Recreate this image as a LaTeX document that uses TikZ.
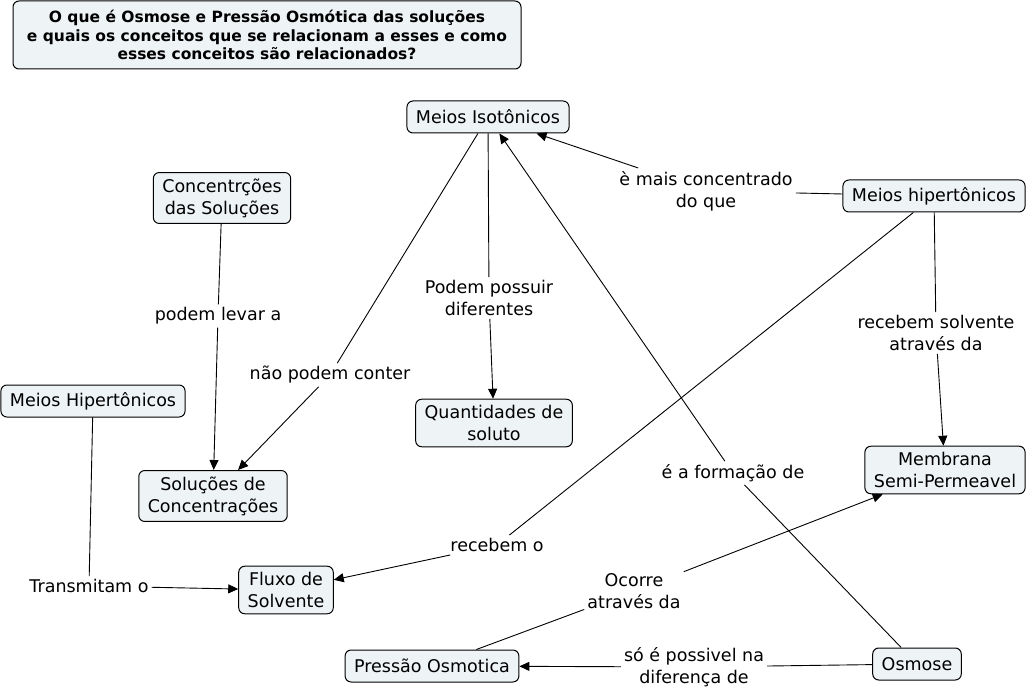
\documentclass[tikz,border=0pt]{standalone}
\usepackage{fontspec}
\setmainfont{DejaVu Sans}
\usetikzlibrary{arrows.meta,positioning}
\definecolor{conceptfill}{RGB}{238,243,245}

\begin{document}
\begin{tikzpicture}[x=1pt, y=-1pt,
    concept/.style={draw, line width=1pt, fill=conceptfill, rounded corners=6pt, align=center,
        inner xsep=9pt, inner ysep=6pt, minimum height=32pt,
        font=\fontsize{17.5}{22}\selectfont},
    linkword/.style={align=center, inner sep=3pt, font=\fontsize{17.5}{22}\selectfont},
    link/.style={line width=0.9pt},
    linkto/.style={line width=0.9pt, -{Triangle[length=10pt,width=9pt]}}]
    \useasboundingbox (0,0) rectangle (1030,692);
    \node[concept, font=\bfseries\fontsize{15.5}{18.5}\selectfont, inner xsep=3pt, minimum width=508pt, minimum height=68pt] (title) at (267,35)
        {O que é Osmose e Pressão Osmótica das soluções\\e quais os conceitos que se relacionam a esses e como\\esses conceitos são relacionados?};
    \node[concept] (isot) at (488,117) {Meios Isotônicos};
    \node[concept] (conc) at (222,198) {Concentrções\\das Soluções};
    \node[concept] (hiperR) at (934,196) {Meios hipertônicos};
    \node[concept] (hiperL) at (93,401) {Meios Hipertônicos};
    \node[concept] (quant) at (494,423) {Quantidades de\\soluto};
    \node[concept] (solu) at (213,496) {Soluções de\\Concentrações};
    \node[concept] (memb) at (945,470) {Membrana\\Semi-Permeavel};
    \node[concept] (fluxo) at (286,590) {Fluxo de\\Solvente};
    \node[concept] (press) at (432,666) {Pressão Osmotica};
    \node[concept] (osm) at (917,664) {Osmose};

    \node[linkword] (maisconc) at (706,191) {è mais concentrado\\do que};
    \node[linkword] (levar) at (218,316) {podem levar a};
    \node[linkword] (possuir) at (489,298) {Podem possuir\\diferentes};
    \node[linkword] (conter) at (330,375) {não podem conter};
    \node[linkword] (recsolv) at (936,333) {recebem solvente\\através da};
    \node[linkword] (formacao) at (733,473) {é a formação de};
    \node[linkword] (recebem) at (497,545) {recebem o};
    \node[linkword] (transm) at (89,586) {Transmitam o};
    \node[linkword] (ocorre) at (634,591) {Ocorre\\através da};
    \node[linkword] (possivel) at (694,667) {só é possivel na\\diferença de};

    \draw[link] (hiperR) -- (maisconc);
    \draw[linkto] (maisconc) -- (isot);
    \draw[link] (isot) -- (conter);
    \draw[linkto] (conter) -- (solu);
    \draw[link] (isot) -- (possuir);
    \draw[linkto] (possuir) -- (quant);
    \draw[link] (osm) -- (formacao);
    \draw[linkto] (formacao) -- (isot);
    \draw[link] (conc) -- (levar);
    \draw[linkto] (levar) -- (solu);
    \draw[link] (hiperR) -- (recebem);
    \draw[linkto] (recebem) -- (fluxo);
    \draw[link] (hiperR) -- (recsolv);
    \draw[linkto] (recsolv) -- (memb);
    \draw[link] (hiperL) -- (transm);
    \draw[linkto] (transm) -- (fluxo);
    \draw[link] (press) -- (ocorre);
    \draw[linkto] (ocorre) -- (memb);
    \draw[link] (osm) -- (possivel);
    \draw[linkto] (possivel) -- (press);
\end{tikzpicture}
\end{document}
